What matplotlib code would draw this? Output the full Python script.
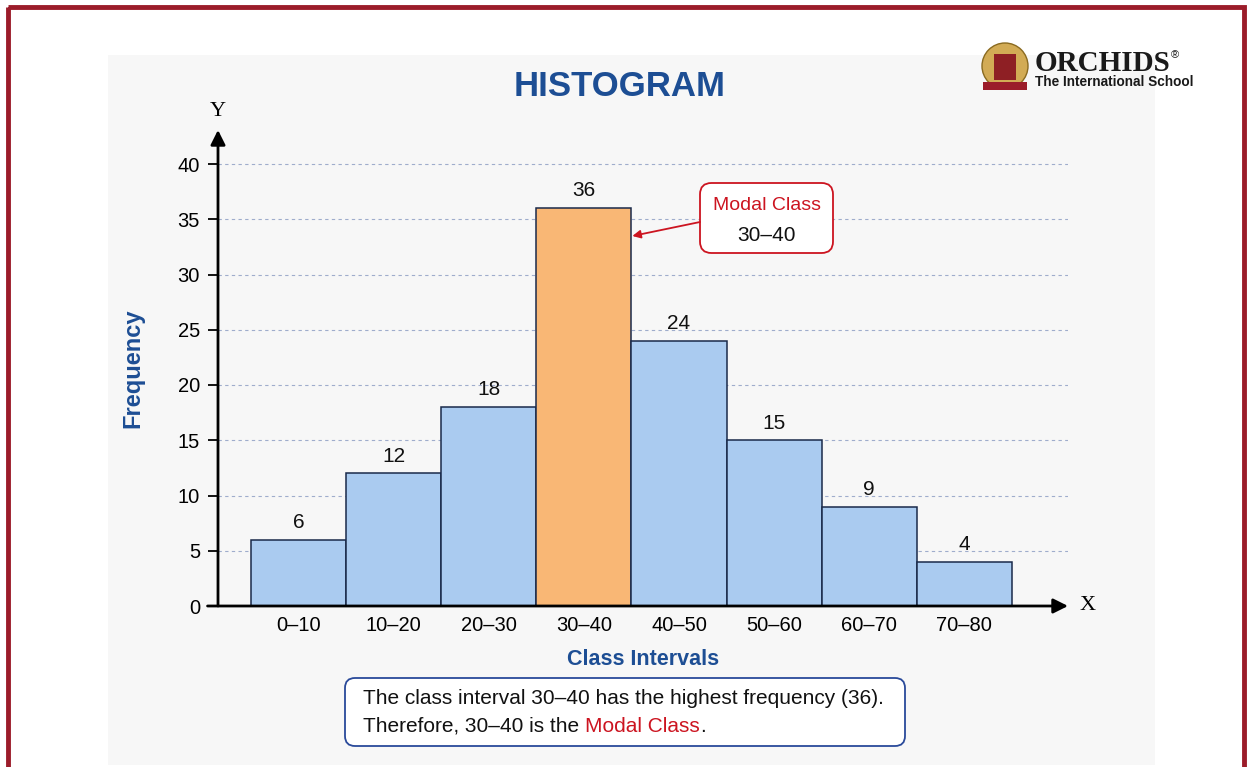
import numpy as np
import matplotlib.pyplot as plt
from matplotlib.patches import FancyBboxPatch, Rectangle, Circle

plt.rcParams['font.family'] = ['Liberation Sans', 'DejaVu Sans']

# data
class_labels = ["0–10", "10–20", "20–30", "30–40", "40–50", "50–60", "60–70", "70–80"]
lower_edges = [0, 10, 20, 30, 40, 50, 60, 70]
frequency = [6, 12, 18, 36, 24, 15, 9, 4]
y_ticks = [0, 5, 10, 15, 20, 25, 30, 35, 40]
bin_width = 10

blue = "#1d4e94"
red = "#cc1420"
bar_blue = "#aacbf0"
bar_orange = "#f9b775"

W, H = 1248, 767
fig = plt.figure(figsize=(W / 100, H / 100), dpi=100)
fig.patch.set_facecolor("white")

def fx(px):
    return px / W

def fy(py):
    return 1 - py / H

# background panel behind everything
fig.patches.append(Rectangle((fx(108), fy(765)), fx(1155) - fx(108), fy(55) - fy(765),
                             transform=fig.transFigure, facecolor="#f7f7f7", edgecolor="none", zorder=-5))

# main axes placed in pixel space
ax_l, ax_r, ax_b, ax_t = 218, 1068, 606, 130
ax = fig.add_axes([fx(ax_l), fy(ax_b), fx(ax_r) - fx(ax_l), fy(ax_t) - fy(ax_b)], zorder=1)
ax.patch.set_alpha(0)
px_per_x = 95.1 / bin_width
px_per_y = (606 - 164) / 40
x_min = -(251 - ax_l) / px_per_x
x_max = (ax_r - 251) / px_per_x
y_max = (ax_b - ax_t) / px_per_y
ax.set_xlim(x_min, x_max)
ax.set_ylim(0, y_max)
for s in ax.spines.values():
    s.set_visible(False)

# grid lines
for t in y_ticks[1:]:
    ax.plot([x_min, x_max], [t, t], ls=(0, (3, 3)), color="#9fadcc", lw=0.8, zorder=1)

# bars
modal = int(np.argmax(frequency))
colors = [bar_orange if i == modal else bar_blue for i in range(len(frequency))]
bars = ax.bar(lower_edges, frequency, width=bin_width, align="edge", color=colors,
              edgecolor="#1a2a4a", linewidth=1.1, zorder=3)
for b, f in zip(bars, frequency):
    ax.text(b.get_x() + b.get_width() / 2, f + 0.7, str(f), ha="center", va="bottom",
            fontsize=15, color="#111111", zorder=4)

# axes with arrows
ax.annotate("", xy=(x_min, y_max), xytext=(x_min, 0),
            arrowprops=dict(arrowstyle="-|>", lw=2, color="black", mutation_scale=22, shrinkA=0, shrinkB=0),
            zorder=6, annotation_clip=False)
ax.annotate("", xy=(x_max, 0), xytext=(x_min - 1.1, 0),
            arrowprops=dict(arrowstyle="-|>", lw=2, color="black", mutation_scale=22, shrinkA=0, shrinkB=0),
            zorder=6, annotation_clip=False)
ax.text(x_max + 1.2, 0, "X", ha="left", va="center", fontsize=16, family="Liberation Serif")
ax.text(x_min, y_max + 0.8, "Y", ha="center", va="bottom", fontsize=16, family="Liberation Serif")

ax.set_yticks(y_ticks)
ax.set_yticklabels([str(t) for t in y_ticks], fontsize=14.5)
ax.tick_params(axis="y", length=7, width=1.3, pad=6, direction="out")
centers = [e + bin_width / 2 for e in lower_edges]
ax.set_xticks(centers)
ax.set_xticklabels(class_labels, fontsize=14.5)
ax.tick_params(axis="x", length=0, pad=7)

ax.set_ylabel("Frequency", fontsize=17, fontweight="bold", color=blue, labelpad=24)
ax.set_xlabel("Class Intervals", fontsize=15.5, fontweight="bold", color=blue, labelpad=10)

# modal class callout
bx0, bx1 = (700 - 251) / px_per_x, (833 - 251) / px_per_x
by0, by1 = (606 - 253) / px_per_y, (606 - 183) / px_per_y
ax.add_patch(FancyBboxPatch((bx0, by0), bx1 - bx0, by1 - by0,
                            boxstyle="round,pad=0,rounding_size=1.2", mutation_aspect=px_per_x / px_per_y,
                            facecolor="white", edgecolor=red, linewidth=1.3, zorder=7))
bcx = (bx0 + bx1) / 2
ax.text(bcx, (606 - 205) / px_per_y, "Modal Class", ha="center", va="center",
        fontsize=14, color=red, zorder=8)
ax.text(bcx, (606 - 235) / px_per_y, class_labels[modal], ha="center", va="center",
        fontsize=15, color="#111111", zorder=8)
ax.annotate("", xy=(lower_edges[modal] + bin_width + 0.1, (606 - 236) / px_per_y),
            xytext=(bx0, (606 - 222) / px_per_y),
            arrowprops=dict(arrowstyle="-|>", lw=1.3, color=red, mutation_scale=12, shrinkA=0, shrinkB=0),
            zorder=8)

# overlay axes in pixel coordinates for title, logo, note box and frame
ov = fig.add_axes([0, 0, 1, 1], zorder=10)
ov.set_xlim(0, W)
ov.set_ylim(H, 0)
ov.axis("off")
ov.patch.set_alpha(0)

ov.text(620, 86, "HISTOGRAM", ha="center", va="center", fontsize=25,
        fontweight="bold", color=blue)

# bottom explanation box
ov.add_patch(FancyBboxPatch((345, 678), 560, 68, boxstyle="round,pad=0,rounding_size=10",
                            facecolor="white", edgecolor="#2a4a9a", linewidth=1.3))
ov.text(363, 698, "The class interval %s has the highest frequency (%d)."
        % (class_labels[modal], frequency[modal]), ha="left", va="center", fontsize=15,
        color="#111111")
t1 = ov.text(363, 726, "Therefore, %s is the " % class_labels[modal], ha="left",
             va="center", fontsize=15, color="#111111")
t2 = ov.annotate("Modal Class", xy=(1, 0.5), xycoords=t1, ha="left", va="center",
                 fontsize=15, color=red)
ov.annotate(".", xy=(1, 0.5), xycoords=t2, ha="left", va="center",
            fontsize=15, color="#111111")

# logo
ov.add_patch(Circle((1005, 66), 23, facecolor="#d2ab55", edgecolor="#8a6a20", linewidth=1))
ov.add_patch(Rectangle((994, 54), 22, 26, facecolor="#8e1f24", edgecolor="none"))
ov.add_patch(Rectangle((983, 82), 44, 8, facecolor="#9b1c2a", edgecolor="none"))
t_logo = ov.text(1035, 71, "ORCHIDS", ha="left", va="baseline", fontsize=21, fontweight="bold",
                 family="Liberation Serif", color="#1a1a1a")
ov.annotate("®", xy=(1.0, 1.0), xycoords=t_logo, ha="left", va="top", fontsize=8, color="#1a1a1a")
ov.text(1035, 75, "The International School", ha="left", va="top", fontsize=9.8,
        fontweight="bold", color="#1a1a1a")

# red frame
ov.add_patch(Rectangle((8, 7), 1236, 800, facecolor="none", edgecolor="#9b1c2a",
                       linewidth=3.5, clip_on=False))

fig.savefig("out.png", dpi=100)
